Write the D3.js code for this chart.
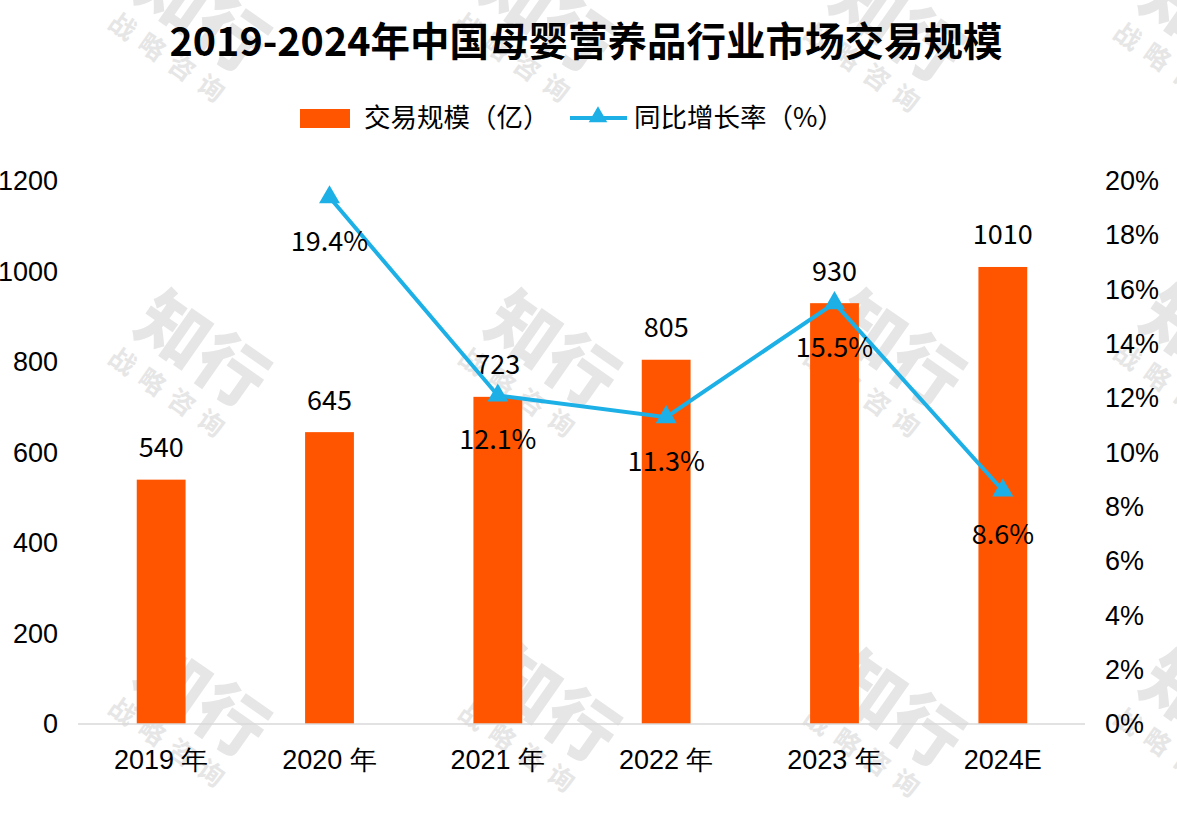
<!DOCTYPE html>
<html>
<head>
<meta charset="utf-8">
<script src="https://cdn.jsdelivr.net/npm/d3@7"></script>
<style>
  body { margin: 0; background: #fff; }
  svg { display: block; font-family: "Noto Sans CJK SC", "Noto Sans", sans-serif; }
</style>
</head>
<body>
<svg id="canvas" width="1177" height="819"></svg>
<script>
const years = ['2019 年', '2020 年', '2021 年', '2022 年', '2023 年', '2024E'];
const scale = [540, 645, 723, 805, 930, 1010];
const growth = [null, 19.4, 12.1, 11.3, 15.5, 8.6];
const leftTicks = [0, 200, 400, 600, 800, 1000, 1200];
const rightTicks = [0, 2, 4, 6, 8, 10, 12, 14, 16, 18, 20];

const barColor = '#ff5500';
const lineColor = '#1cb0e6';
const fs = 27;

let canvas = d3.select('#canvas');

let x = d3.scaleBand().domain(years).range([77, 1087]).paddingInner(0.71).paddingOuter(0.355);
let y = d3.scaleLinear().domain([0, 1200]).range([724, 181]);
let y2 = d3.scaleLinear().domain([0, 20]).range([724, 181]);

// watermark
const marks = [[185, 40], [530, 40], [880, 50], [1190, 50], [185, 375], [535, 375], [880, 375], [1190, 370], [185, 725], [535, 730], [880, 735], [1190, 735]];
let wm = canvas.append('g').attr('fill', '#e6e6e6');
marks.forEach(m => {
    let g = wm.append('g').attr('transform', `translate(${m[0]},${m[1]}) rotate(35)`);
    g.append('text').attr('text-anchor', 'middle').attr('font-size', 70).attr('font-weight', 900).attr('y', -5).text('知行');
    g.append('text').attr('text-anchor', 'middle').attr('font-size', 26).attr('font-weight', 700).attr('y', 34).attr('letter-spacing', 10).text('战略咨询');
});

// title
canvas.append('text')
    .attr('x', 586).attr('y', 42).attr('dy', '0.35em')
    .attr('text-anchor', 'middle')
    .attr('font-size', 39.5).attr('font-weight', 'bold')
    .text('2019-2024年中国母婴营养品行业市场交易规模');

// legend
let legend = canvas.append('g').attr('font-size', 26.5);
legend.append('rect').attr('x', 300).attr('y', 109).attr('width', 50).attr('height', 19).attr('fill', barColor);
legend.append('text').attr('x', 364).attr('y', 118).attr('dy', '0.35em').text('交易规模（亿）');
legend.append('line').attr('x1', 570).attr('x2', 627).attr('y1', 118).attr('y2', 118)
    .attr('stroke', lineColor).attr('stroke-width', 4);
legend.append('path').attr('d', d3.symbol(d3.symbolTriangle, 150)())
    .attr('transform', 'translate(598,117)').attr('fill', lineColor);
legend.append('text').attr('x', 634).attr('y', 118).attr('dy', '0.35em').text('同比增长率（%）');

// axes
let leftAxis = d3.axisLeft(y).tickValues(leftTicks).tickFormat(d3.format('d')).tickSize(0).tickPadding(0);
canvas.append('g').attr('transform', 'translate(58,0)').call(leftAxis)
    .call(g => g.select('.domain').remove())
    .selectAll('text').attr('font-size', fs).attr('fill', '#000').attr('font-family', null);

let rightAxis = d3.axisRight(y2).tickValues(rightTicks).tickFormat(d => d + '%').tickSize(0).tickPadding(0);
canvas.append('g').attr('transform', 'translate(1105,0)').call(rightAxis)
    .call(g => g.select('.domain').remove())
    .selectAll('text').attr('font-size', fs).attr('fill', '#000').attr('font-family', null);

let bottomAxis = d3.axisBottom(x).tickSize(0).tickPadding(26);
canvas.append('g').attr('transform', 'translate(0,724)').call(bottomAxis)
    .call(g => g.select('.domain').remove())
    .selectAll('text').attr('font-size', fs).attr('fill', '#000').attr('font-family', null);

// bars
canvas.selectAll('rect.bar')
    .data(scale)
    .enter()
    .append('rect')
    .attr('class', 'bar')
    .attr('x', (d, i) => x(years[i]))
    .attr('y', d => y(d))
    .attr('width', x.bandwidth())
    .attr('height', d => y(0) - y(d))
    .attr('fill', barColor);

canvas.append('line')
    .attr('x1', 78).attr('x2', 1085).attr('y1', 724).attr('y2', 724)
    .attr('stroke', '#d9d9d9').attr('stroke-width', 1.5);

canvas.selectAll('text.barlabel')
    .data(scale)
    .enter()
    .append('text')
    .attr('class', 'barlabel')
    .attr('x', (d, i) => x(years[i]) + x.bandwidth() / 2)
    .attr('y', d => y(d) - 32)
    .attr('dy', '0.35em')
    .attr('text-anchor', 'middle')
    .attr('font-size', fs)
    .text(d => d);

// line
let points = growth.map((v, i) => ({ year: years[i], v: v })).filter(p => p.v !== null);
let cx = p => x(p.year) + x.bandwidth() / 2;

canvas.append('path')
    .datum(points)
    .attr('d', d3.line().x(cx).y(p => y2(p.v)))
    .attr('fill', 'none')
    .attr('stroke', lineColor)
    .attr('stroke-width', 4);

canvas.selectAll('path.marker')
    .data(points)
    .enter()
    .append('path')
    .attr('class', 'marker')
    .attr('d', d3.symbol(d3.symbolTriangle, 190)())
    .attr('transform', p => `translate(${cx(p)},${y2(p.v)})`)
    .attr('fill', lineColor);

canvas.selectAll('text.ratelabel')
    .data(points)
    .enter()
    .append('text')
    .attr('class', 'ratelabel')
    .attr('x', cx)
    .attr('y', p => y2(p.v) + 44)
    .attr('dy', '0.35em')
    .attr('text-anchor', 'middle')
    .attr('font-size', fs)
    .text(p => p.v.toFixed(1) + '%');
</script>
</body>
</html>
